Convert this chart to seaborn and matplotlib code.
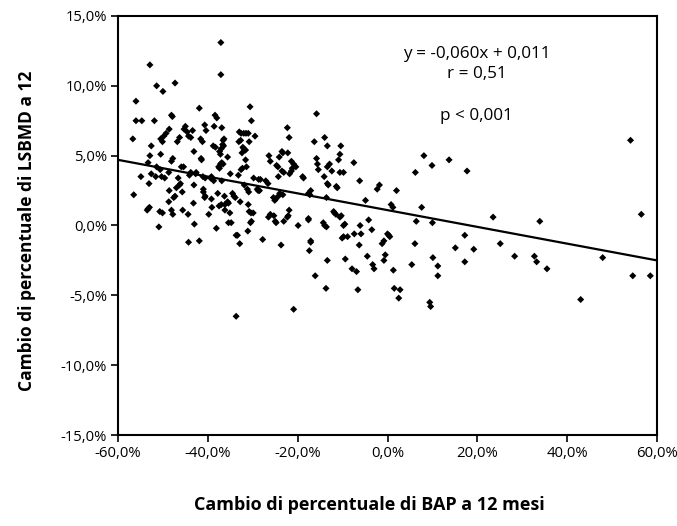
import numpy as np
import pandas as pd
import matplotlib
matplotlib.use("Agg")
import matplotlib.pyplot as plt
import seaborn as sns

# Percent change in BAP at 12 months (x) and percent change in LSBMD (y)
bap_change = [
    -37.1, -37.1, -52.9, -51.4, -50.0, -47.3, -56.0, -56.0, -54.7, -51.9,
    -48.1, -47.9, -41.9, -38.4, -38.0, -30.6, -30.3, -15.8, -22.3, -36.9,
    -38.6, -56.7, -56.5, -54.9, -53.3, -52.9, -52.6, -53.1, -52.6, -53.5,
    -53.3, -53.0, -51.4, -51.6, -50.6, -50.5, -50.5, -50.1, -49.8, -49.3,
    -50.9, -50.7, -50.1, -50.3, -49.6, -48.7, -48.6, -48.7, -48.6, -48.1,
    -47.8, -48.1, -47.8, -47.6, -47.3, -47.0, -46.8, -46.3, -46.6, -46.1,
    -46.3, -45.9, -45.4, -45.6, -45.7, -45.3, -45.0, -44.6, -44.3, -44.1,
    -43.8, -44.4, -44.3, -43.8, -43.4, -43.2, -43.1, -43.1, -43.0, -42.7,
    -42.6, -41.9, -41.6, -41.2, -41.5, -41.4, -41.1, -40.6, -41.0, -41.0,
    -40.7, -40.6, -40.4, -40.7, -39.8, -39.4, -38.7, -39.2, -39.2, -39.1,
    -38.8, -38.3, -38.1, -37.6, -37.4, -37.2, -37.5, -37.0, -37.8, -37.4,
    -37.2, -37.0, -36.9, -36.6, -36.4, -36.7, -36.5, -36.6, -36.9, -36.3,
    -36.2, -36.2, -35.6, -35.4, -34.8, -35.6, -35.4, -35.0, -35.1, -34.5,
    -34.2, -33.9, -33.7, -33.4, -33.7, -33.2, -33.1, -32.7, -32.9, -33.0,
    -32.6, -32.6, -32.3, -32.8, -32.4, -32.2, -32.0, -31.6, -32.0, -31.5,
    -31.0, -31.9, -31.6, -31.4, -31.2, -30.9, -31.1, -30.8, -30.4, -29.9,
    -31.0, -30.8, -30.3, -30.5, -29.8, -29.5, -29.0, -28.8, -28.5, -28.7,
    -28.3, -27.8, -27.1, -26.6, -26.4, -26.1, -26.5, -26.1, -25.4, -25.1,
    -24.9, -25.3, -25.0, -24.8, -24.7, -24.4, -24.3, -24.1, -24.0, -24.3,
    -23.7, -23.5, -23.3, -23.5, -23.1, -23.3, -23.1, -22.3, -22.1, -22.2,
    -21.9, -21.9, -21.8, -21.4, -21.2, -21.4, -20.9, -20.9, -20.4, -19.9,
    -18.9, -18.7, -17.6, -17.3, -17.6, -17.6, -17.1, -17.1, -17.4, -17.1,
    -16.3, -16.1, -15.8, -15.6, -15.4, -14.3, -14.0, -14.1, -14.0, -13.7,
    -13.4, -13.6, -13.6, -13.4, -13.4, -13.2, -13.4, -12.9, -12.4, -12.0,
    -11.8, -11.5, -11.4, -11.2, -10.9, -10.6, -10.6, -9.8, -10.6, -10.3,
    -10.4, -10.1, -9.8, -9.8, -9.5, -9.4, -8.9, -7.9, -7.5, -7.4,
    -6.9, -6.6, -6.3, -6.2, -6.1, -5.9, -4.9, -4.5, -4.2, -3.5,
    -3.3, -3.0, -2.3, -1.8, -1.2, -0.8, -0.8, -0.5, 0.0, 0.3,
    0.5, 0.8, 1.2, 1.3, 1.5, 2.0, 2.5, 2.8, 5.4, 6.1,
    6.2, 6.4, 7.6, 8.1, 9.4, 9.6, 9.9, 10.0, 10.1, 11.2,
    11.2, 13.7, 15.1, 17.2, 17.2, 17.7, 19.2, 23.5, 25.1, 28.3,
    32.7, 33.2, 33.9, 35.5, 43.0, 47.9, 54.1, 54.6, 56.5, 58.5,
]
lsbmd_change = [
    13.1, 10.8, 11.5, 10.0, 9.6, 10.2, 8.9, 7.5, 7.5, 7.5,
    7.9, 7.8, 8.4, 7.9, 7.7, 8.5, 7.5, 8.0, 7.0, 7.0,
    7.1, 6.2, 2.2, 3.5, 4.5, 5.0, 5.7, 3.0, 3.7, 1.1,
    1.2, 1.3, 4.2, 3.5, 4.0, 5.1, 6.2, 6.0, 6.4, 6.6,
    -0.1, 1.0, 0.9, 3.5, 3.4, 3.8, 6.9, 1.7, 2.5, 4.6,
    4.8, 1.1, 0.8, 2.0, 2.1, 2.7, 6.0, 6.3, 3.4, 3.0,
    2.9, 4.2, 4.2, 1.1, 2.4, 6.9, 7.1, 6.7, 6.4, 3.6,
    3.8, 0.8, -1.2, 6.3, 6.8, 1.6, 2.9, 5.3, 0.1, 3.7,
    3.8, -1.1, 6.2, 6.0, 4.8, 4.7, 3.5, 3.4, 2.6, 2.4,
    2.0, 2.1, 6.8, 7.2, 0.8, 3.4, 3.2, 3.5, 1.9, 1.3,
    5.7, 5.6, -0.2, 4.2, 4.1, 4.4, 1.4, 1.5, 2.3, 5.3,
    5.1, 5.5, 3.2, 6.1, 6.2, 5.8, 5.7, 4.4, 4.5, 2.1,
    1.5, 1.1, 4.9, 0.2, 0.2, 1.7, 1.6, 3.7, 0.9, 2.3,
    2.1, 2.0, -0.7, -0.7, -6.5, 3.6, 6.0, 6.1, -1.3, 6.7,
    6.6, 4.0, 4.1, 1.7, 5.2, 5.6, 5.5, 5.4, 6.6, 6.6,
    6.6, 2.9, 4.7, 4.2, 2.6, 2.4, -0.4, 1.0, 0.9, 0.9,
    1.5, 6.0, 0.3, 0.2, 3.4, 6.4, 2.6, 2.5, 2.5, 3.3,
    3.3, -1.0, 3.2, 3.0, 5.0, 4.6, 0.6, 0.8, 2.0, 1.8,
    1.9, 0.7, 0.3, 0.2, 4.3, 4.2, 3.5, 4.9, 2.3, 2.1,
    -1.4, 5.3, 5.2, 3.9, 3.8, 2.2, 0.3, 0.6, 0.7, 5.2,
    6.3, 1.1, 3.7, 3.9, 4.1, 4.6, 4.4, -6.0, 4.2, 0.0,
    3.5, 3.4, 2.3, 2.2, 0.5, 0.4, -1.1, -1.2, -1.8, 2.5,
    6.0, -3.6, 4.8, 4.4, 4.0, 0.2, 0.0, 3.5, 6.3, -4.5,
    -2.5, 2.0, -0.1, 4.2, 3.0, 2.9, 5.7, 4.4, 3.9, 1.0,
    0.9, 0.8, 2.8, 2.7, 4.7, 5.1, 3.8, 3.8, 0.6, 0.7,
    5.7, -0.9, -0.8, 0.0, 0.1, -2.4, -0.8, -3.1, 4.5, -0.6,
    -3.3, -4.6, -1.4, 3.2, 0.0, -0.6, 1.8, -2.2, 0.4, -0.3,
    -2.8, -3.1, 2.6, 2.9, -1.3, -1.1, -2.5, -2.1, -0.6, -0.7,
    -0.8, 1.5, 1.3, -3.2, -4.5, 2.5, -5.2, -4.6, -2.8, -1.3,
    3.8, 0.3, 1.3, 5.0, -5.5, -5.8, 4.3, 0.2, -2.3, -2.9,
    -3.6, 4.7, -1.6, -0.7, -2.6, 3.9, -1.7, 0.6, -1.3, -2.2,
    -2.2, -2.6, 0.3, -3.1, -5.3, -2.3, 6.1, -3.6, 0.8, -3.6,
]

# Fitted regression (fractions): y = -0.060x + 0.011, r = 0.51
slope = -0.060
intercept = 0.011

x_ticks = [-60, -40, -20, 0, 20, 40, 60]
x_ticklabels = ["-60,0%", "-40,0%", "-20,0%", "0,0%", "20,0%", "40,0%", "60,0%"]
y_ticks = [-15, -10, -5, 0, 5, 10, 15]
y_ticklabels = ["-15,0%", "-10,0%", "-5,0%", "0,0%", "5,0%", "10,0%", "15,0%"]

df = pd.DataFrame({"bap": bap_change, "lsbmd": lsbmd_change})

sns.set_theme(style="white")
plt.rcParams["font.family"] = ["Open Sans", "DejaVu Sans"]
plt.rcParams["text.color"] = "black"
plt.rcParams["axes.labelcolor"] = "black"

fig = plt.figure(figsize=(6.77, 5.26), dpi=100)
ax = fig.add_axes([0.1743, 0.173, 0.7962, 0.7966])

sns.scatterplot(data=df, x="bap", y="lsbmd", marker="D", s=13, color="black",
                edgecolor="none", linewidth=0, ax=ax, legend=False)

# Regression line from the stated equation (converted to percent units)
line_x = np.array([-60.0, 60.0])
line_y = (slope * line_x / 100 + intercept) * 100
sns.lineplot(x=line_x, y=line_y, color="black", linewidth=1.6, ax=ax)

ax.set_xlim(-60, 60)
ax.set_ylim(-15, 15)
ax.set_xticks(x_ticks)
ax.set_xticklabels(x_ticklabels)
ax.set_yticks(y_ticks)
ax.set_yticklabels(y_ticklabels)
ax.tick_params(axis="both", direction="out", length=5, width=1.2, color="black",
               labelsize=10.7, labelcolor="black", left=True, bottom=True, pad=3)

for side in ["left", "right", "top", "bottom"]:
    ax.spines[side].set_visible(True)
    ax.spines[side].set_color("black")
    ax.spines[side].set_linewidth(1.5)

ax.set_xlabel("Cambio di percentuale di BAP a 12 mesi", fontsize=13,
              fontweight="bold")
ax.set_ylabel("Cambio di percentuale di LSBMD a 12", fontsize=12.5,
              fontweight="bold")
ax.xaxis.set_label_coords(0.467, -0.145)
ax.yaxis.set_label_coords(-0.152, 0.487)

ax.text(19.8, 11.96, "y = -0,060x + 0,011", ha="center", va="baseline", fontsize=12.3)
ax.text(19.8, 10.53, "r = 0,51", ha="center", va="baseline", fontsize=12.3)
ax.text(19.8, 7.52, "p < 0,001", ha="center", va="baseline", fontsize=12.3)

fig.savefig("out.png", dpi=100)
